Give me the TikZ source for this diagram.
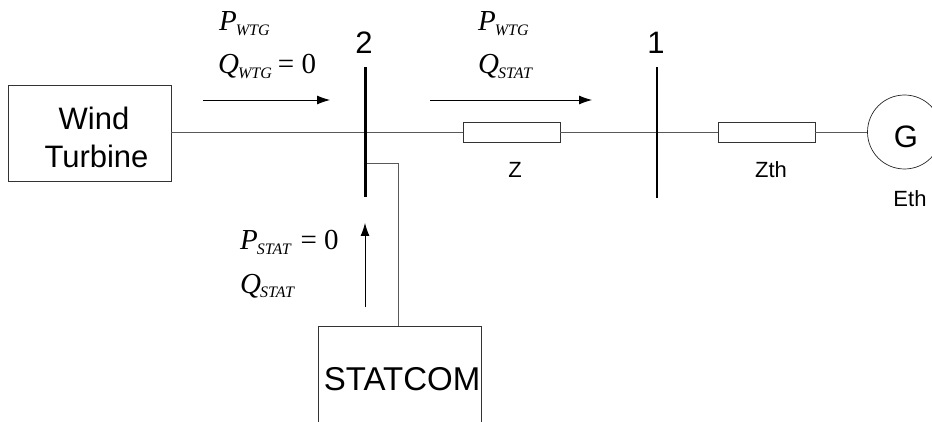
\documentclass[tikz,border=0pt]{standalone}
\usepackage{fontspec}
\setmainfont{Liberation Sans}
\newfontfamily\tmfont{Liberation Serif}
\usetikzlibrary{arrows.meta}
\tikzset{
 x=1pt,y=-1pt,
 wire/.style={draw=black!65,line width=1pt},
 box/.style={draw=black!80,line width=0.8pt,fill=white,inner sep=0pt,rectangle},
 bus/.style={draw=black,line width=2.5pt},
 flow/.style={draw=black,line width=0.8pt,-{Latex[length=13pt,width=9pt]}},
 big/.style={font=\fontsize{31}{36}\selectfont,inner sep=0pt,anchor=base},
 wide/.style={font=\fontsize{33}{38}\selectfont,inner sep=0pt,anchor=base},
 small/.style={font=\fontsize{22}{26}\selectfont,inner sep=0pt,anchor=base},
 lab/.style={font=\tmfont\fontsize{29}{34}\selectfont,inner sep=0pt,anchor=base west},
}
\newcommand{\flowlab}[3]{\textit{#1}\hspace{-1pt}\raisebox{-5pt}{\fontsize{16}{18}\selectfont\textit{#2}}#3}
\begin{document}
\begin{tikzpicture}
\useasboundingbox (0,0) rectangle (932,422);
\clip (0,0) rectangle (932,422);
% junction coordinates
\coordinate (b2t) at (365.5,67); \coordinate (b2b) at (365.5,197);
\coordinate (b1t) at (657,67); \coordinate (b1b) at (657,198);
\coordinate (b2m) at (365.5,132.5); \coordinate (b1m) at (657,132.5);
\coordinate (b2s) at (365.5,164); \coordinate (kink) at (398.5,164);
% nodes
\node[box,minimum width=163pt,minimum height=96pt] (wt) at (89.5,133.7) {};
\node[big] (wt1) at (94,130) {Wind};
\node[big] (wt2) at (96.5,168) {Turbine};
\node[box,minimum width=97pt,minimum height=20pt] (z) at (511.5,132.5) {};
\node[box,minimum width=97pt,minimum height=20pt] (zth) at (766.5,132.5) {};
\node[draw=black!85,line width=0.7pt,circle,minimum size=74pt,inner sep=0pt] (g) at (904.5,132) {};
\node[big] (gt) at (906,148) {G};
\node[small] (zl) at (515,178) {Z};
\node[small] (zthl) at (771,178) {Zth};
\node[small] (ethl) at (910,207) {Eth};
\node[big] (n2) at (364,53.5) {2};
\node[big] (n1) at (656,53.5) {1};
\node[wide] (st) at (402,390) {STATCOM};
% wires
\coordinate (stb) at (398.5,326);
\draw[wire] (wt.east|-b2m) -- (z.west|-b2m);
\draw[wire] (z.east|-b1m) -- (zth.west|-b1m);
\draw[wire] (zth.east|-b1m) -- (g.west|-b1m);
\draw[wire] (b2s) -- (kink) -- (stb);
\draw[draw=black!80,line width=0.8pt] (318.5,422) -- (318.5,326) -- (481,326) -- (481,422);
\draw[bus] (b2t) -- (b2b);
\draw[bus] (b1t) -- (b1b);
% flow arrows
\coordinate (a1s) at (203,100); \coordinate (a1e) at (330,100);
\coordinate (a2s) at (430,100); \coordinate (a2e) at (592,100);
\coordinate (a3s) at (365,307); \coordinate (a3e) at (365,223);
\draw[flow] (a1s) -- (a1e);
\draw[flow] (a2s) -- (a2e);
\draw[flow] (a3s) -- (a3e);
% labels
\node[lab] (l1) at (219,31) {\flowlab{P}{WTG}{}};
\node[lab] (l2) at (218,74) {\flowlab{Q}{WTG}{\hspace{6pt}= 0}};
\node[lab] (l3) at (478,31) {\flowlab{P}{WTG}{}};
\node[lab] (l4) at (478,74) {\flowlab{Q}{STAT}{}};
\node[lab] (l5) at (240,250) {\flowlab{P}{STAT}{\hspace{9pt}= 0}};
\node[lab] (l6) at (240,293) {\flowlab{Q}{STAT}{}};
\end{tikzpicture}
\end{document}
